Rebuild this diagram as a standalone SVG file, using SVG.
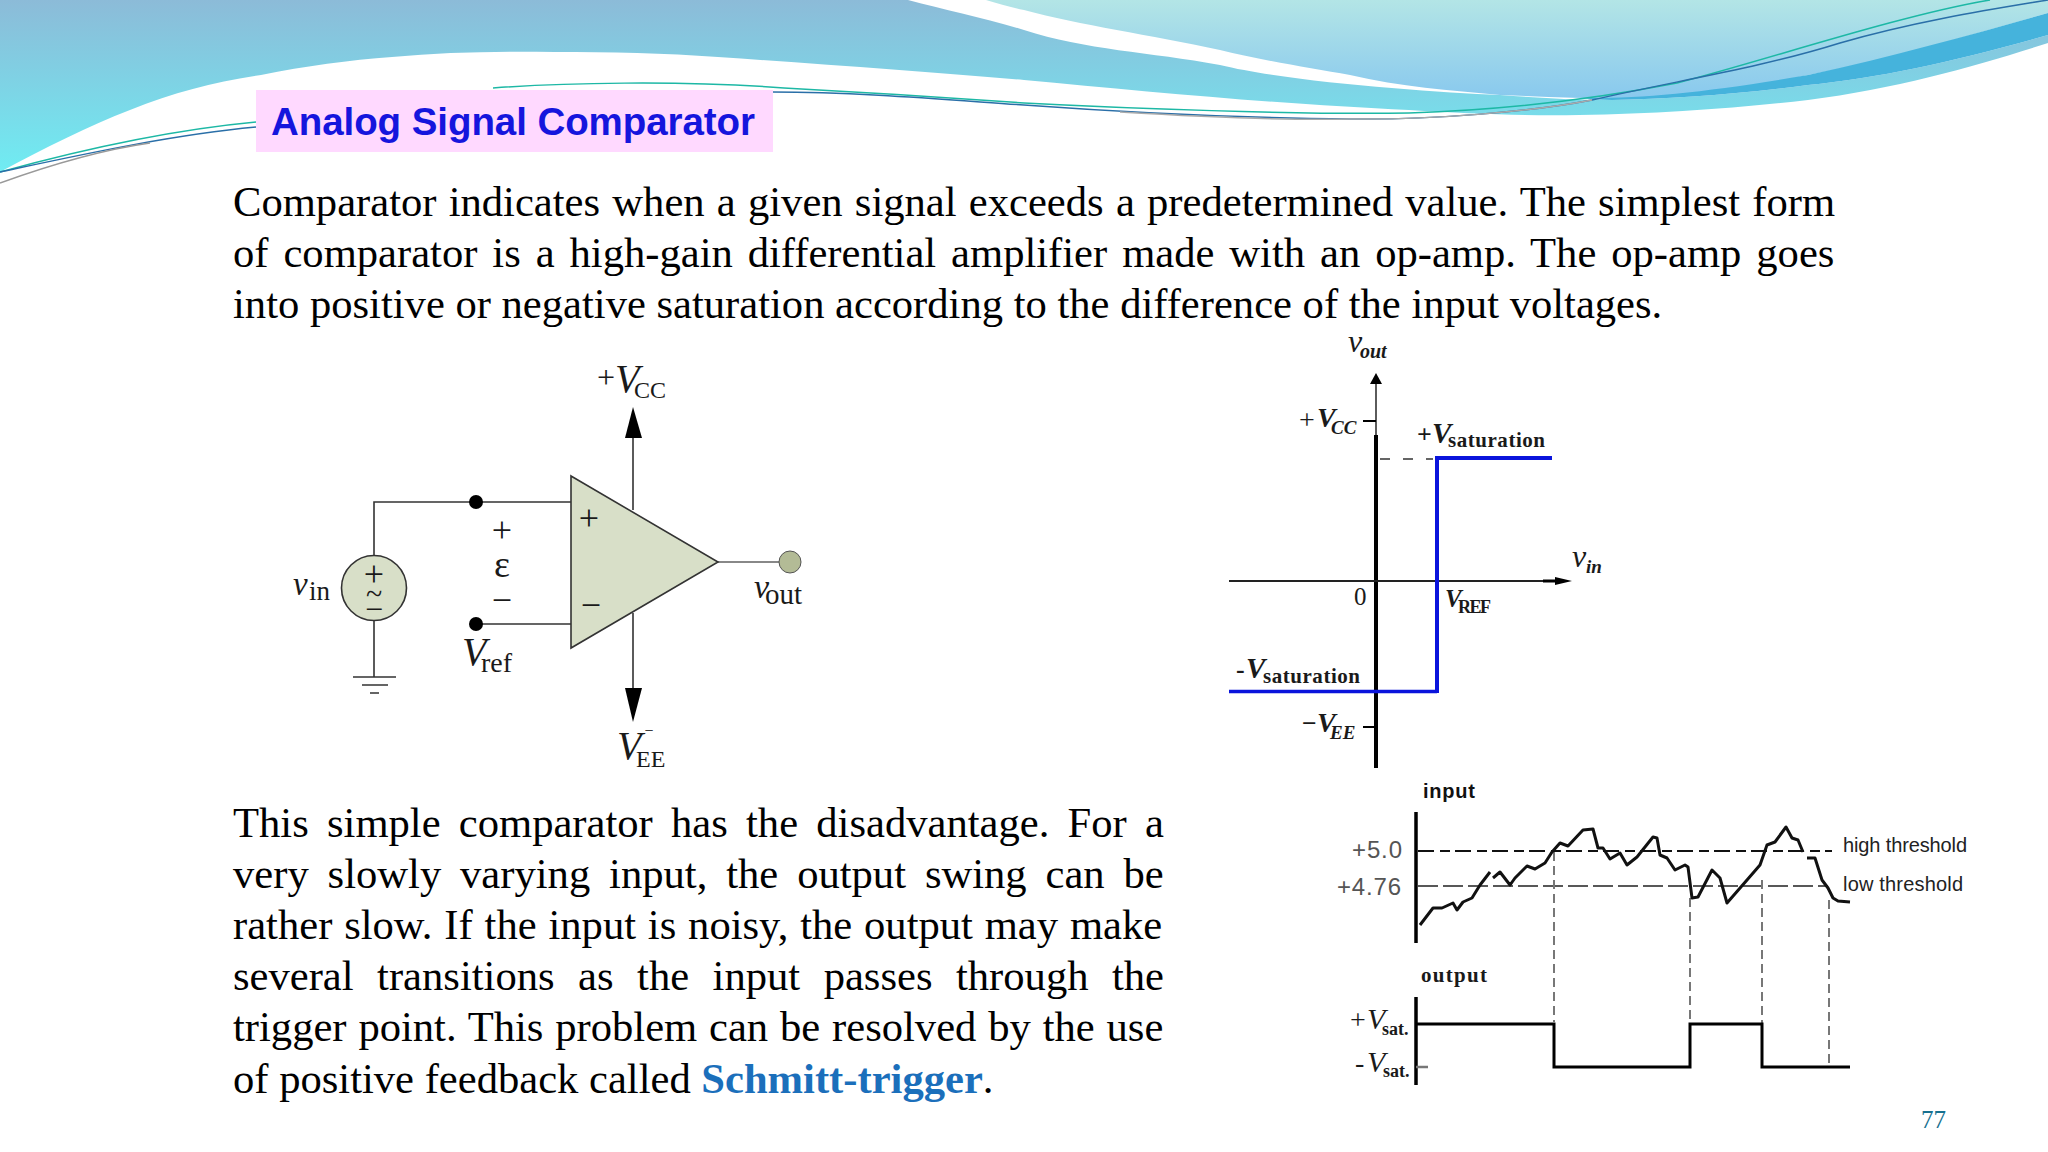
<svg xmlns="http://www.w3.org/2000/svg" width="2048" height="1152" viewBox="0 0 2048 1152">
<style>
.b{font-family:"Liberation Serif","Times New Roman",serif;font-size:42.6px;fill:#000}
.s{font-family:"Liberation Serif",serif;fill:#1a1a1a}
.i{font-style:italic}
.bd{font-weight:bold}
.sa{font-family:"Liberation Sans",Arial,sans-serif}
.w{fill:none;stroke:#333;stroke-width:1.6}
.th{fill:none;stroke:#000;stroke-width:3.5}
.dv{fill:none;stroke:#777;stroke-width:2;stroke-dasharray:9 5}
</style>
<defs>
<linearGradient id="g1" x1="0" y1="0" x2="0" y2="175" gradientUnits="userSpaceOnUse"><stop offset="0" stop-color="#8CBBD8"/><stop offset="1" stop-color="#6FEDF3"/></linearGradient>
<linearGradient id="g3" x1="0" y1="0" x2="0" y2="100" gradientUnits="userSpaceOnUse"><stop offset="0" stop-color="#B3E5E6"/><stop offset="1" stop-color="#88C8EE"/></linearGradient>
</defs>
<rect width="2048" height="1152" fill="#fff"/>
<g id="header">
<path d="M0 172C45 148 90 125 130 110C175 92 215 82 261 75C305 66 350 60 392 57C445 52 500 51 555 52C610 52 665 53 718 57C820 64 930 72 1024 80C1150 92 1290 105 1409 110C1470 114 1530 116 1579 115C1660 114 1740 108 1808 100C1900 88 1980 65 2048 43V35C1960 60 1880 78 1808 85C1740 94 1670 99 1612 100C1575 100 1540 98 1500 95C1430 92 1290 82 1220 65C1150 52 1085 50 1024 30C985 18 945 10 908 0H0Z" fill="url(#g1)"/>
<path d="M986 0H2048V13C1960 38 1880 62 1808 75C1740 90 1690 96 1644 98C1600 99 1550 97 1500 95C1450 90 1400 87 1350 75C1310 68 1260 60 1220 50C1150 35 1080 25 1024 10C1010 7 1000 4 986 0Z" fill="url(#g3)"/>
<path d="M1580 98C1640 99 1710 92 1808 75C1900 55 1980 32 2048 13V35C1960 60 1880 78 1808 85C1740 94 1670 99 1612 100C1600 100 1590 99 1580 98Z" fill="#45B3DC"/>
<g fill="none" stroke-width="1.5">
<path d="M0 172C80 150 170 130 256 122" stroke="#1DB8A5"/>
<path d="M0 172C80 155 170 135 256 127" stroke="#2A6FA8"/>
<path d="M0 183C50 165 100 150 150 143" stroke="#999"/>
<path d="M493 88C560 83 680 80 784 88C860 92 950 98 1024 103C1120 108 1300 115 1409 113C1500 110 1590 100 1677 83C1760 62 1900 15 1990 0" stroke="#1DB8A5"/>
<path d="M772 92C860 92 950 100 1024 105C1120 112 1250 118 1350 119C1430 120 1530 112 1592 100C1680 80 1760 68 1840 43C1920 20 2000 8 2048 0" stroke="#2A6FA8"/>
<path d="M1120 112C1220 118 1300 120 1350 119C1430 120 1530 112 1592 100" stroke="#aaa"/>
</g>
</g>
<g id="title">
<rect x="256" y="90" width="517" height="62" fill="#FFD9FF"/>
<text x="271" y="135" class="sa bd" font-size="38.500" fill="#1515DD" textLength="484">Analog Signal Comparator</text>
</g>
<g id="para1">
<text x="233" y="215.500" class="b" word-spacing="1.6">Comparator indicates when a given signal exceeds a predetermined value. The simplest form</text>
<text x="233" y="266.500" class="b" word-spacing="4.3">of comparator is a high-gain differential amplifier made with an op-amp. The op-amp goes</text>
<text x="233" y="317.500" class="b">into positive or negative saturation according to the difference of the input voltages.</text>
</g>
<g id="para2">
<text x="233" y="837" class="b" word-spacing="7.6">This simple comparator has the disadvantage. For a</text>
<text x="233" y="888" class="b" word-spacing="8.25">very slowly varying input, the output swing can be</text>
<text x="233" y="939" class="b" word-spacing="1.2">rather slow. If the input is noisy, the output may make</text>
<text x="233" y="990" class="b" word-spacing="12.85">several transitions as the input passes through the</text>
<text x="233" y="1041" class="b" word-spacing="1.2">trigger point. This problem can be resolved by the use</text>
<text x="233" y="1092.500" class="b">of positive feedback called <tspan class="bd" fill="#1B6FBB">Schmitt-trigger</tspan>.</text>
</g>
<g id="connectors">
<path class="w" d="M374 555V502H571M475 624H571M374 621V677M353 677H396M362 685H388M370 693H379M633 438V510M633 613V690"/>
<path d="M718 562H779" fill="none" stroke="#888" stroke-width="2"/>
<path d="M633 407L642 438H625Z" fill="#000"/>
<path d="M633 722L642 688H625Z" fill="#000"/>
</g>
<g id="opamp">
<path d="M571 476L718 562L571 648Z" fill="#D8DFC8" stroke="#333" stroke-width="1.6"/>
<text x="589" y="530" class="s" font-size="36" text-anchor="middle">+</text>
<text x="591" y="617" class="s" font-size="36" text-anchor="middle">−</text>
</g>
<g id="source">
<circle cx="374" cy="588" r="32.5" fill="#D8DFC8" stroke="#333" stroke-width="1.6"/>
<text x="374" y="586" class="s" font-size="36" text-anchor="middle">+</text>
<text x="374" y="604" class="s" font-size="30" text-anchor="middle">~</text>
<text x="374" y="620" class="s" font-size="32" text-anchor="middle" fill="#555">−</text>
</g>
<g id="terminals">
<circle cx="476" cy="502" r="7" fill="#000"/>
<circle cx="476" cy="624" r="7" fill="#000"/>
<circle cx="790" cy="562" r="11" fill="#B3BB96" stroke="#555" stroke-width="1"/>
</g>
<g id="circuit-labels">
<text x="293" y="595" class="s i" font-size="33">v</text><text x="309" y="600" class="s" font-size="27">in</text>
<text x="597" y="388" class="s" font-size="32">+</text><text x="615" y="392" class="s i" font-size="40">V</text><text x="634" y="398" class="s" font-size="24">CC</text>
<text x="502" y="542" class="s" font-size="36" text-anchor="middle">+</text>
<text x="502" y="577" class="s" font-size="38" text-anchor="middle">ε</text>
<text x="502" y="612" class="s" font-size="36" text-anchor="middle">−</text>
<text x="462" y="665" class="s i" font-size="40">V</text><text x="481" y="672" class="s" font-size="28">ref</text>
<text x="649" y="736" class="s" font-size="16" text-anchor="middle">−</text>
<text x="617" y="759" class="s i" font-size="40">V</text><text x="636" y="767" class="s" font-size="24">EE</text>
<text x="754" y="598" class="s i" font-size="34">v</text><text x="765" y="604" class="s" font-size="29">out</text>
</g>
<g id="transfer-graph">
<path d="M1376 383V435" fill="none" stroke="#333" stroke-width="1.6"/>
<path d="M1376 373L1382 384H1370Z" fill="#000"/>
<path d="M1376 435V768" fill="none" stroke="#000" stroke-width="4"/>
<path d="M1229 581H1556" fill="none" stroke="#222" stroke-width="1.8"/>
<path d="M1543 581H1556" fill="none" stroke="#000" stroke-width="3"/>
<path d="M1572 581L1555 577V585Z" fill="#000"/>
<path d="M1363 421H1376M1363 727H1376" fill="none" stroke="#000" stroke-width="2"/>
<path d="M1380 459H1433" fill="none" stroke="#333" stroke-width="1.5" stroke-dasharray="10 13"/>
<path d="M1229 691.500H1437" fill="none" stroke="#0A14DC" stroke-width="3.500"/>
<path d="M1437 693V458H1552" fill="none" stroke="#0A14DC" stroke-width="4"/>
<text x="1348" y="352" class="s i" font-size="32">v</text><text x="1360" y="358" class="s i bd" font-size="20">out</text>
<text x="1299" y="429" class="s" font-size="28" fill="#444">+</text><text x="1317" y="427" class="s i bd" font-size="28">V</text><text x="1331" y="434" class="s i bd" font-size="19">CC</text>
<text x="1417" y="443" class="s bd" font-size="26">+</text><text x="1432" y="443" class="s i bd" font-size="29">V</text><text x="1448" y="447" class="s bd" font-size="21" textLength="97">saturation</text>
<text x="1354" y="605" class="s" font-size="25" fill="#555">0</text>
<text x="1572" y="567" class="s i" font-size="32">v</text><text x="1586" y="573" class="s i bd" font-size="19">in</text>
<text x="1445" y="607" class="s i bd" font-size="25">V</text><text x="1458" y="613" class="s bd" font-size="18" textLength="33">REF</text>
<text x="1236" y="678" class="s bd" font-size="26">-</text><text x="1246" y="678" class="s i bd" font-size="29">V</text><text x="1263" y="683" class="s bd" font-size="21" textLength="97">saturation</text>
<text x="1302" y="732" class="s bd" font-size="26">−</text><text x="1317" y="732" class="s i bd" font-size="28">V</text><text x="1330" y="739" class="s i bd" font-size="19">EE</text>
</g>
<g id="schmitt-graph">
<text x="1423" y="798" class="sa bd" font-size="20" textLength="52" fill="#111">input</text>
<path class="th" d="M1416 812V943"/>
<text x="1352" y="858" class="sa" font-size="24" textLength="50" fill="#555">+5.0</text>
<text x="1337" y="895" class="sa" font-size="24" textLength="64" fill="#555">+4.76</text>
<path d="M1418 851H1832" fill="none" stroke="#111" stroke-width="2" stroke-dasharray="16 6 10 5"/>
<path d="M1418 886H1828" fill="none" stroke="#222" stroke-width="1.500" stroke-dasharray="20 5"/>
<path class="dv" d="M1554 852V1022M1690 898V1022M1762 880V1024M1829 900V1065"/>
<path fill="none" stroke="#111" stroke-width="3" stroke-linejoin="round" d="M1420 925L1433 908L1442 908L1453 903L1457 910L1463 902L1472 898L1480 885L1490 872M1493 878L1500 872L1510 885L1515 878L1527 866L1535 869L1545 863L1552 852L1560 843L1568 846L1583 830L1593 829L1598 848L1603 848L1610 859L1620 853L1627 865L1637 857L1653 837L1657 838L1660 855L1667 858L1675 870L1685 865L1688 867L1692 898L1698 897L1712 870L1720 878L1727 903L1747 880L1760 865L1767 845L1775 842L1786 827L1792 838L1798 840L1803 852M1807 858L1815 858L1822 880L1828 888L1833 898L1838 901L1850 902"/>
<text x="1843" y="852" class="sa" font-size="20" textLength="124" fill="#222">high threshold</text>
<text x="1843" y="891" class="sa" font-size="20" textLength="120" fill="#222">low threshold</text>
<text x="1421" y="982" class="s bd" font-size="21" textLength="66" fill="#111">output</text>
<path class="th" d="M1416 997V1085"/>
<path d="M1416 1067H1428" fill="none" stroke="#777" stroke-width="2.500"/>
<path d="M1416 1024H1554V1067H1690V1024H1762V1067H1850" fill="none" stroke="#000" stroke-width="3"/>
<text x="1350" y="1029" class="s" font-size="28">+</text><text x="1367" y="1029" class="s i" font-size="30" fill="#444">V</text><text x="1382" y="1035" class="s bd" font-size="18">sat.</text>
<text x="1355" y="1072" class="s" font-size="28">-</text><text x="1367" y="1072" class="s i" font-size="30" fill="#444">V</text><text x="1383" y="1077" class="s bd" font-size="18">sat.</text>
</g>
<text id="page-number" x="1921" y="1128" style="font-family:'Liberation Serif',serif;font-size:25px;fill:#17708F">77</text>
</svg>
